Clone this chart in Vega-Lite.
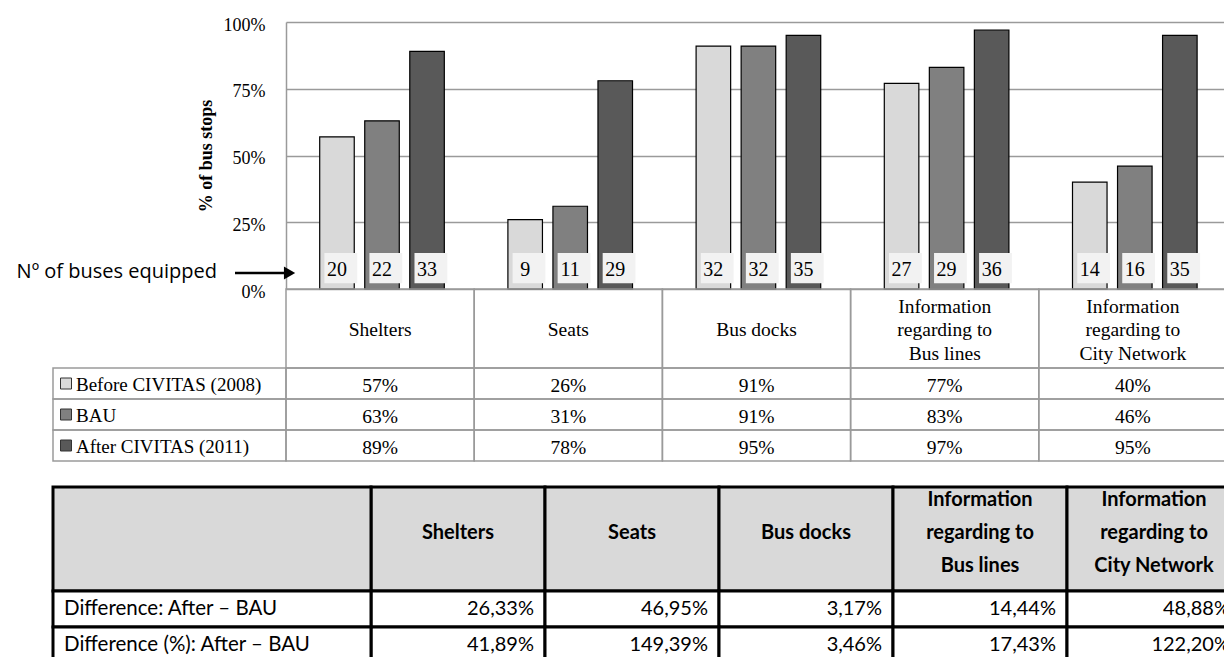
{
  "$schema": "https://vega.github.io/schema/vega-lite/v6.json",
  "width": 938,
  "height": 635,
  "autosize": {"type": "none"},
  "padding": {"left": 286, "top": 22, "right": 0, "bottom": 0},
  "background": "white",
  "config": {
    "view": {"stroke": null},
    "locale": {"number": {"decimal": ",", "thousands": ".", "grouping": [3], "currency": ["", " €"]}}
  },
  "datasets": {
    "bars": [
      {"category": "Shelters", "series": "Before CIVITAS (2008)", "value": 0.57, "count": 20},
      {"category": "Shelters", "series": "BAU", "value": 0.63, "count": 22},
      {"category": "Shelters", "series": "After CIVITAS (2011)", "value": 0.89, "count": 33},
      {"category": "Seats", "series": "Before CIVITAS (2008)", "value": 0.26, "count": 9},
      {"category": "Seats", "series": "BAU", "value": 0.31, "count": 11},
      {"category": "Seats", "series": "After CIVITAS (2011)", "value": 0.78, "count": 29},
      {"category": "Bus docks", "series": "Before CIVITAS (2008)", "value": 0.91, "count": 32},
      {"category": "Bus docks", "series": "BAU", "value": 0.91, "count": 32},
      {"category": "Bus docks", "series": "After CIVITAS (2011)", "value": 0.95, "count": 35},
      {"category": "Information regarding to Bus lines", "series": "Before CIVITAS (2008)", "value": 0.77, "count": 27},
      {"category": "Information regarding to Bus lines", "series": "BAU", "value": 0.83, "count": 29},
      {"category": "Information regarding to Bus lines", "series": "After CIVITAS (2011)", "value": 0.97, "count": 36},
      {"category": "Information regarding to City Network", "series": "Before CIVITAS (2008)", "value": 0.40, "count": 14},
      {"category": "Information regarding to City Network", "series": "BAU", "value": 0.46, "count": 16},
      {"category": "Information regarding to City Network", "series": "After CIVITAS (2011)", "value": 0.95, "count": 35}
    ],
    "categories": [
      {"category": "Shelters", "label": "\nShelters"},
      {"category": "Seats", "label": "\nSeats"},
      {"category": "Bus docks", "label": "\nBus docks"},
      {"category": "Information regarding to Bus lines", "label": "Information\nregarding to\nBus lines"},
      {"category": "Information regarding to City Network", "label": "Information\nregarding to\nCity Network"}
    ],
    "series": [
      {"series": "Before CIVITAS (2008)"},
      {"series": "BAU"},
      {"series": "After CIVITAS (2011)"}
    ],
    "diffs": [
      {"row": "Difference: After – BAU", "category": "Shelters", "value": 0.2633},
      {"row": "Difference: After – BAU", "category": "Seats", "value": 0.4695},
      {"row": "Difference: After – BAU", "category": "Bus docks", "value": 0.0317},
      {"row": "Difference: After – BAU", "category": "Information regarding to Bus lines", "value": 0.1444},
      {"row": "Difference: After – BAU", "category": "Information regarding to City Network", "value": 0.4888},
      {"row": "Difference (%): After – BAU", "category": "Shelters", "value": 0.4189},
      {"row": "Difference (%): After – BAU", "category": "Seats", "value": 1.4939},
      {"row": "Difference (%): After – BAU", "category": "Bus docks", "value": 0.0346},
      {"row": "Difference (%): After – BAU", "category": "Information regarding to Bus lines", "value": 0.1743},
      {"row": "Difference (%): After – BAU", "category": "Information regarding to City Network", "value": 1.2220}
    ],
    "rows": [
      {"row": "Difference: After – BAU"},
      {"row": "Difference (%): After – BAU"}
    ],
    "corner": [{"cell": "corner"}],
    "annotation": [{"label": "Nº of buses equipped"}]
  },
  "layer": [
    {
      "data": {"name": "bars"},
      "mark": {"type": "bar", "stroke": "#000000", "strokeWidth": 1.2},
      "encoding": {
        "x": {"field": "category", "type": "nominal", "scale": {"type": "band", "domain": ["Shelters", "Seats", "Bus docks", "Information regarding to Bus lines", "Information regarding to City Network"], "range": [0, 941], "paddingInner": 0, "paddingOuter": 0}, "axis": null},
        "xOffset": {"field": "series", "type": "nominal", "scale": {"type": "band", "domain": ["Before CIVITAS (2008)", "BAU", "After CIVITAS (2011)"], "paddingInner": 0.233, "paddingOuter": 0.706, "align": 0.53}},
        "y": {"field": "value", "type": "quantitative", "scale": {"domain": [0, 1], "range": [267, 0], "nice": false},
          "axis": {"values": [0, 0.25, 0.5, 0.75, 1], "format": ".0%", "grid": true, "gridColor": "#9a9a9a", "gridWidth": 1.5, "domainColor": "#9a9a9a", "domainWidth": 1.5, "ticks": false, "labelPadding": 21, "labelFont": "Liberation Serif", "labelFontSize": 18, "labelColor": "#000000", "labelOffset": 3, "labelBaseline": "middle", "title": "% of bus stops", "titleFont": "Liberation Serif", "titleFontSize": 18, "titleFontWeight": "bold", "titleColor": "#000000", "titlePadding": 8}},
        "fill": {"field": "series", "type": "nominal", "scale": {"domain": ["Before CIVITAS (2008)", "BAU", "After CIVITAS (2011)"], "range": ["#d9d9d9", "#808080", "#595959"]}, "legend": null}
      }
    },
    {
      "data": {"name": "bars"},
      "mark": {"type": "bar", "fill": "#f2f2f2", "width": {"band": 0.95}},
      "encoding": {
        "x": {"field": "category", "type": "nominal", "scale": {"type": "band", "domain": ["Shelters", "Seats", "Bus docks", "Information regarding to Bus lines", "Information regarding to City Network"], "range": [0, 941], "paddingInner": 0, "paddingOuter": 0}, "axis": null},
        "xOffset": {"field": "series", "type": "nominal", "scale": {"type": "band", "domain": ["Before CIVITAS (2008)", "BAU", "After CIVITAS (2011)"], "paddingInner": 0.233, "paddingOuter": 0.706, "align": 0.53}},
        "y": {"datum": 0.135, "type": "quantitative", "scale": {"domain": [0, 1], "range": [267, 0], "nice": false}, "axis": null},
        "y2": {"datum": 0.022}
      }
    },
    {
      "data": {"name": "bars"},
      "mark": {"type": "text", "font": "Liberation Serif", "fontSize": 20, "baseline": "middle", "color": "#000000"},
      "encoding": {
        "x": {"field": "category", "type": "nominal", "scale": {"type": "band", "domain": ["Shelters", "Seats", "Bus docks", "Information regarding to Bus lines", "Information regarding to City Network"], "range": [0, 941], "paddingInner": 0, "paddingOuter": 0}, "axis": null},
        "xOffset": {"field": "series", "type": "nominal", "scale": {"type": "band", "domain": ["Before CIVITAS (2008)", "BAU", "After CIVITAS (2011)"], "paddingInner": 0.233, "paddingOuter": 0.706, "align": 0.53}},
        "y": {"datum": 0.071, "type": "quantitative", "scale": {"domain": [0, 1], "range": [267, 0], "nice": false}, "axis": null},
        "text": {"field": "count", "type": "quantitative"}
      }
    },
    {
      "data": {"name": "categories"},
      "mark": {"type": "rect", "fill": "transparent", "stroke": "#9a9a9a", "strokeWidth": 1.5},
      "encoding": {
        "x": {"field": "category", "type": "nominal", "scale": {"type": "band", "domain": ["Shelters", "Seats", "Bus docks", "Information regarding to Bus lines", "Information regarding to City Network"], "range": [0, 941], "paddingInner": 0, "paddingOuter": 0}, "axis": null},
        "y": {"datum": "hdr", "type": "nominal", "scale": {"type": "band", "domain": ["hdr"], "range": [267, 346], "paddingInner": 0, "paddingOuter": 0}, "axis": null}
      }
    },
    {
      "data": {"name": "categories"},
      "mark": {"type": "text", "font": "Liberation Serif", "fontSize": 19.5, "lineBreak": "\n", "lineHeight": 23.5, "baseline": "middle", "dy": -22, "color": "#000000"},
      "encoding": {
        "x": {"field": "category", "type": "nominal", "scale": {"type": "band", "domain": ["Shelters", "Seats", "Bus docks", "Information regarding to Bus lines", "Information regarding to City Network"], "range": [0, 941], "paddingInner": 0, "paddingOuter": 0}, "axis": null},
        "y": {"datum": "hdr", "type": "nominal", "scale": {"type": "band", "domain": ["hdr"], "range": [267, 346], "paddingInner": 0, "paddingOuter": 0}, "axis": null},
        "text": {"field": "label", "type": "nominal"}
      }
    },
    {
      "data": {"name": "bars"},
      "mark": {"type": "rect", "fill": "transparent", "stroke": "#9a9a9a", "strokeWidth": 1.5},
      "encoding": {
        "x": {"field": "category", "type": "nominal", "scale": {"type": "band", "domain": ["Shelters", "Seats", "Bus docks", "Information regarding to Bus lines", "Information regarding to City Network"], "range": [0, 941], "paddingInner": 0, "paddingOuter": 0}, "axis": null},
        "y": {"field": "series", "type": "nominal", "scale": {"type": "band", "domain": ["Before CIVITAS (2008)", "BAU", "After CIVITAS (2011)"], "range": [346, 439], "paddingInner": 0, "paddingOuter": 0}, "axis": null}
      }
    },
    {
      "data": {"name": "bars"},
      "mark": {"type": "text", "font": "Liberation Serif", "fontSize": 19.5, "baseline": "middle", "dy": 2, "color": "#000000"},
      "encoding": {
        "x": {"field": "category", "type": "nominal", "scale": {"type": "band", "domain": ["Shelters", "Seats", "Bus docks", "Information regarding to Bus lines", "Information regarding to City Network"], "range": [0, 941], "paddingInner": 0, "paddingOuter": 0}, "axis": null},
        "y": {"field": "series", "type": "nominal", "scale": {"type": "band", "domain": ["Before CIVITAS (2008)", "BAU", "After CIVITAS (2011)"], "range": [346, 439], "paddingInner": 0, "paddingOuter": 0}, "axis": null},
        "text": {"field": "value", "type": "quantitative", "format": ".0%"}
      }
    },
    {
      "data": {"name": "series"},
      "mark": {"type": "rect", "fill": "transparent", "stroke": "#9a9a9a", "strokeWidth": 1.5},
      "encoding": {
        "x": {"datum": "legend", "type": "nominal", "scale": {"type": "band", "domain": ["legend"], "range": [-233, 0], "paddingInner": 0, "paddingOuter": 0}, "axis": null},
        "y": {"field": "series", "type": "nominal", "scale": {"type": "band", "domain": ["Before CIVITAS (2008)", "BAU", "After CIVITAS (2011)"], "range": [346, 439], "paddingInner": 0, "paddingOuter": 0}, "axis": null}
      }
    },
    {
      "data": {"name": "series"},
      "mark": {"type": "point", "shape": "square", "size": 121, "filled": true, "stroke": "#333333", "strokeWidth": 1, "opacity": 1},
      "encoding": {
        "x": {"datum": "swatch", "type": "nominal", "scale": {"type": "band", "domain": ["swatch"], "range": [-226, -214], "paddingInner": 0, "paddingOuter": 0}, "axis": null},
        "y": {"field": "series", "type": "nominal", "scale": {"type": "band", "domain": ["Before CIVITAS (2008)", "BAU", "After CIVITAS (2011)"], "range": [346, 439], "paddingInner": 0, "paddingOuter": 0}, "axis": null},
        "fill": {"field": "series", "type": "nominal", "scale": {"domain": ["Before CIVITAS (2008)", "BAU", "After CIVITAS (2011)"], "range": ["#d9d9d9", "#808080", "#595959"]}, "legend": null}
      }
    },
    {
      "data": {"name": "series"},
      "mark": {"type": "text", "font": "Liberation Serif", "fontSize": 19, "baseline": "middle", "align": "left", "dy": 1, "color": "#000000"},
      "encoding": {
        "x": {"datum": "text", "type": "nominal", "scale": {"type": "band", "domain": ["text"], "range": [-215, -205], "paddingInner": 0, "paddingOuter": 0}, "axis": null},
        "y": {"field": "series", "type": "nominal", "scale": {"type": "band", "domain": ["Before CIVITAS (2008)", "BAU", "After CIVITAS (2011)"], "range": [346, 439], "paddingInner": 0, "paddingOuter": 0}, "axis": null},
        "text": {"field": "series", "type": "nominal"}
      }
    },
    {
      "data": {"name": "categories"},
      "mark": {"type": "rect", "fill": "#d9d9d9", "stroke": "#000000", "strokeWidth": 3},
      "encoding": {
        "x": {"field": "category", "type": "nominal", "scale": {"type": "band", "domain": ["Shelters", "Seats", "Bus docks", "Information regarding to Bus lines", "Information regarding to City Network"], "range": [85, 955], "paddingInner": 0, "paddingOuter": 0}, "axis": null},
        "y": {"datum": "hdr", "type": "nominal", "scale": {"type": "band", "domain": ["hdr"], "range": [465, 569], "paddingInner": 0, "paddingOuter": 0}, "axis": null}
      }
    },
    {
      "data": {"name": "corner"},
      "mark": {"type": "rect", "fill": "#d9d9d9", "stroke": "#000000", "strokeWidth": 3},
      "encoding": {
        "x": {"datum": "label", "type": "nominal", "scale": {"type": "band", "domain": ["label"], "range": [-233, 85], "paddingInner": 0, "paddingOuter": 0}, "axis": null},
        "y": {"datum": "hdr", "type": "nominal", "scale": {"type": "band", "domain": ["hdr"], "range": [465, 569], "paddingInner": 0, "paddingOuter": 0}, "axis": null}
      }
    },
    {
      "data": {"name": "categories"},
      "mark": {"type": "text", "font": "Lato", "fontWeight": "bold", "fontSize": 20, "lineBreak": "\n", "lineHeight": 33, "baseline": "middle", "dy": -39, "color": "#000000"},
      "encoding": {
        "x": {"field": "category", "type": "nominal", "scale": {"type": "band", "domain": ["Shelters", "Seats", "Bus docks", "Information regarding to Bus lines", "Information regarding to City Network"], "range": [85, 955], "paddingInner": 0, "paddingOuter": 0}, "axis": null},
        "y": {"datum": "hdr", "type": "nominal", "scale": {"type": "band", "domain": ["hdr"], "range": [465, 569], "paddingInner": 0, "paddingOuter": 0}, "axis": null},
        "text": {"field": "label", "type": "nominal"}
      }
    },
    {
      "data": {"name": "diffs"},
      "mark": {"type": "rect", "fill": "#ffffff", "stroke": "#000000", "strokeWidth": 3},
      "encoding": {
        "x": {"field": "category", "type": "nominal", "scale": {"type": "band", "domain": ["Shelters", "Seats", "Bus docks", "Information regarding to Bus lines", "Information regarding to City Network"], "range": [85, 955], "paddingInner": 0, "paddingOuter": 0}, "axis": null},
        "y": {"field": "row", "type": "nominal", "scale": {"type": "band", "domain": ["Difference: After – BAU", "Difference (%): After – BAU"], "range": [569, 641], "paddingInner": 0, "paddingOuter": 0}, "axis": null}
      }
    },
    {
      "data": {"name": "rows"},
      "mark": {"type": "rect", "fill": "#ffffff", "stroke": "#000000", "strokeWidth": 3},
      "encoding": {
        "x": {"datum": "label", "type": "nominal", "scale": {"type": "band", "domain": ["label"], "range": [-233, 85], "paddingInner": 0, "paddingOuter": 0}, "axis": null},
        "y": {"field": "row", "type": "nominal", "scale": {"type": "band", "domain": ["Difference: After – BAU", "Difference (%): After – BAU"], "range": [569, 641], "paddingInner": 0, "paddingOuter": 0}, "axis": null}
      }
    },
    {
      "data": {"name": "diffs"},
      "mark": {"type": "text", "font": "Lato", "fontSize": 20, "baseline": "middle", "align": "right", "dx": -11, "color": "#000000"},
      "encoding": {
        "x": {"field": "category", "type": "nominal", "bandPosition": 1, "scale": {"type": "band", "domain": ["Shelters", "Seats", "Bus docks", "Information regarding to Bus lines", "Information regarding to City Network"], "range": [85, 955], "paddingInner": 0, "paddingOuter": 0}, "axis": null},
        "y": {"field": "row", "type": "nominal", "scale": {"type": "band", "domain": ["Difference: After – BAU", "Difference (%): After – BAU"], "range": [569, 641], "paddingInner": 0, "paddingOuter": 0}, "axis": null},
        "text": {"field": "value", "type": "quantitative", "format": ".2%"}
      }
    },
    {
      "data": {"name": "rows"},
      "mark": {"type": "text", "font": "Lato", "fontSize": 20.5, "baseline": "middle", "align": "left", "color": "#000000"},
      "encoding": {
        "x": {"datum": "text", "type": "nominal", "scale": {"type": "band", "domain": ["text"], "range": [-227, -217], "paddingInner": 0, "paddingOuter": 0}, "axis": null},
        "y": {"field": "row", "type": "nominal", "scale": {"type": "band", "domain": ["Difference: After – BAU", "Difference (%): After – BAU"], "range": [569, 641], "paddingInner": 0, "paddingOuter": 0}, "axis": null},
        "text": {"field": "row", "type": "nominal"}
      }
    },
    {
      "data": {"name": "annotation"},
      "mark": {"type": "text", "font": "Open Sans", "fontSize": 20, "baseline": "middle", "align": "right", "dx": -18, "color": "#000000"},
      "encoding": {
        "x": {"datum": 0, "type": "quantitative", "scale": {"domain": [0, 1], "range": [-51, 11], "nice": false, "zero": false}, "axis": null},
        "y": {"datum": 0.064, "type": "quantitative", "scale": {"domain": [0, 1], "range": [267, 0], "nice": false}, "axis": null},
        "text": {"field": "label", "type": "nominal"}
      }
    },
    {
      "data": {"name": "annotation"},
      "mark": {"type": "rule", "color": "#000000", "strokeWidth": 2.5},
      "encoding": {
        "x": {"datum": 0, "type": "quantitative", "scale": {"domain": [0, 1], "range": [-51, 11], "nice": false, "zero": false}, "axis": null},
        "x2": {"datum": 0.8},
        "y": {"datum": 0.06, "type": "quantitative", "scale": {"domain": [0, 1], "range": [267, 0], "nice": false}, "axis": null}
      }
    },
    {
      "data": {"name": "annotation"},
      "mark": {"type": "point", "shape": "triangle-right", "size": 170, "filled": true, "color": "#000000", "opacity": 1},
      "encoding": {
        "x": {"datum": 0.88, "type": "quantitative", "scale": {"domain": [0, 1], "range": [-51, 11], "nice": false, "zero": false}, "axis": null},
        "y": {"datum": 0.06, "type": "quantitative", "scale": {"domain": [0, 1], "range": [267, 0], "nice": false}, "axis": null}
      }
    }
  ],
  "resolve": {"scale": {"x": "independent", "y": "independent", "xOffset": "independent", "fill": "independent"}}
}
